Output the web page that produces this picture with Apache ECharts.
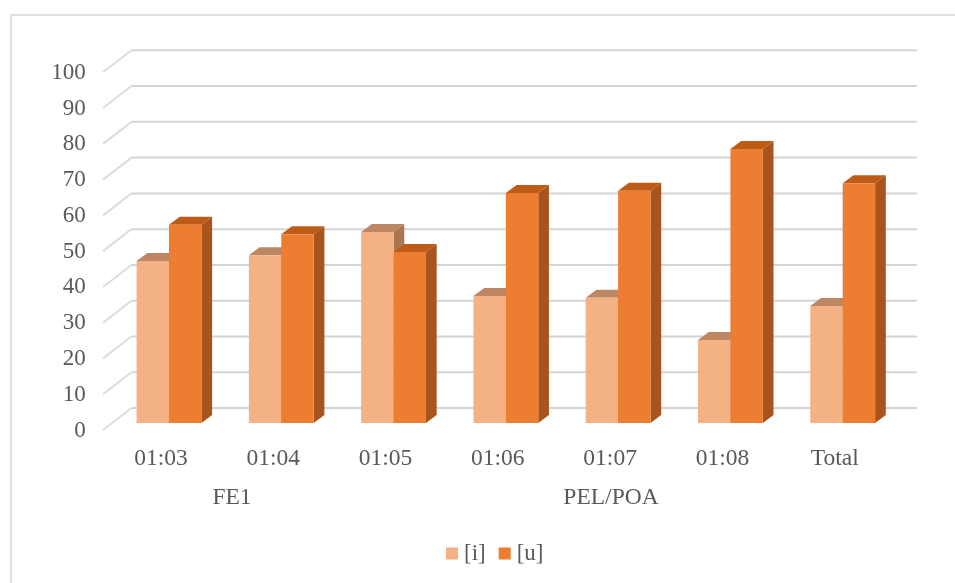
<!DOCTYPE html>
<html><head><meta charset="utf-8">
<style>html,body{margin:0;padding:0;background:#fff}#c{width:955px;height:583px}</style>
<script src="https://cdn.jsdelivr.net/npm/echarts@6/dist/echarts.min.js"></script>
</head><body><div id="c"></div>
<script>
const categories = ['01:03','01:04','01:05','01:06','01:07','01:08','Total'];
const seriesI = [45.3,46.9,53.4,35.5,35.0,23.2,32.7];
const seriesU = [55.4,52.8,47.8,64.3,64.9,76.6,67.0];
const ticks = [0,10,20,30,40,50,60,70,80,90,100];
const groups = [{text:'FE1',x:232},{text:'PEL/POA',x:611}];

const FONT='"Liberation Serif","Times New Roman",serif';
const TXT='#595959';
const DX=10.7, DY=8, BW=32.4;
const LIGHT={front:'#f4b183',top:'#bd8763',side:'#ab7752'};
const DARK={front:'#ed7d31',top:'#bd5b17',side:'#a9541c'};

function bar(pal,offset){
  return function(params,api){
    const p0=api.coord([api.value(0),0]);
    const p1=api.coord([api.value(0),api.value(1)]);
    const xl=p0[0]+offset*BW, xr=xl+BW, yb=p0[1], yt=p1[1];
    return {type:'group',children:[
      {type:'polygon',shape:{points:[[xr,yt],[xr+DX,yt-DY],[xr+DX,yb-DY],[xr,yb]]},style:{fill:pal.side}},
      {type:'polygon',shape:{points:[[xl,yt],[xl+DX,yt-DY],[xr+DX,yt-DY],[xr,yt]]},style:{fill:pal.top}},
      {type:'rect',shape:{x:xl,y:yt,width:BW,height:yb-yt},style:{fill:pal.front}}
    ]};
  };
}
function gridLine(params,api){
  const p=api.coord([0,api.value(0)]);
  const yBack=p[1]-15, xBack=131.5, xEnd=917, xFront=103, yFront=yBack+22;
  return {type:'group',children:[
    {type:'line',shape:{x1:xFront,y1:yFront,x2:xBack,y2:yBack},style:{stroke:'#dcdcdc',lineWidth:2}},
    {type:'line',shape:{x1:xBack,y1:yBack,x2:xEnd,y2:yBack},style:{stroke:'#d4d4d4',lineWidth:2}}
  ]};
}
const chart=echarts.init(document.getElementById('c'),null,{renderer:'canvas'});
chart.setOption({
  animation:false,backgroundColor:'#fff',
  grid:{left:112.85,width:786,top:65.3,height:357.7,containLabel:false},
  xAxis:{type:'category',data:categories,
    axisLine:{show:false},axisTick:{show:false},splitLine:{show:false},
    axisLabel:{fontFamily:FONT,fontSize:23.5,color:TXT,margin:24,padding:[0,16,0,0],interval:0}},
  yAxis:{type:'value',min:0,max:100,interval:10,
    axisLine:{show:false},axisTick:{show:false},splitLine:{show:false},
    axisLabel:{fontFamily:FONT,fontSize:23,color:TXT,margin:27,verticalAlign:'top',lineHeight:15}},
  legend:{show:true,left:441,top:537,itemWidth:12,itemHeight:12,itemGap:13,icon:'rect',
    data:['[i]','[u]'],textStyle:{fontFamily:FONT,fontSize:23,color:TXT,padding:[0,0,0,1]}},
  graphic:[
    {type:'rect',z:-10,shape:{x:11,y:15,width:950,height:600},style:{fill:'#fff',stroke:'#e0e0e0',lineWidth:2}},
    ...groups.map(g=>({type:'text',x:g.x,y:498,style:{text:g.text,fontFamily:FONT,fontSize:23.5,fill:TXT,textAlign:'center',textVerticalAlign:'middle'}}))
  ],
  series:[
    {type:'custom',name:'grid',renderItem:gridLine,data:ticks.map(v=>[v]),encode:{y:0},silent:true,z:1,clip:false},
    {type:'custom',name:'[i]',renderItem:bar(LIGHT,-1),data:categories.map((c,i)=>[i,seriesI[i]]),encode:{x:0,y:1},itemStyle:{color:LIGHT.front},z:2},
    {type:'custom',name:'[u]',renderItem:bar(DARK,0),data:categories.map((c,i)=>[i,seriesU[i]]),encode:{x:0,y:1},itemStyle:{color:DARK.front},z:3}
  ]
});
</script></body></html>
